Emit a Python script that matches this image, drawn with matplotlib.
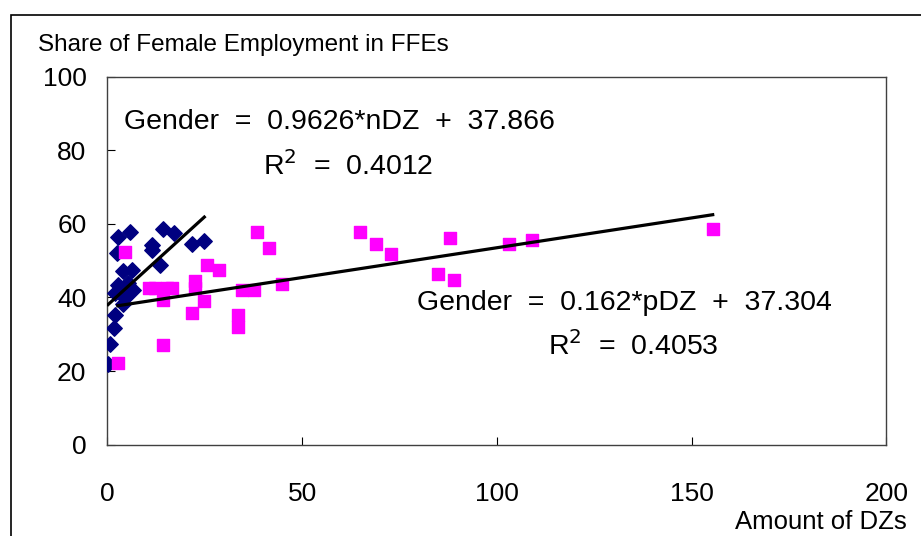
import matplotlib.pyplot as plt
from matplotlib.patches import Rectangle
import numpy as np

# nDZ series (navy diamonds)
n_dz = [0.2, 0.7, 1.7, 2.0, 4.1, 2.0, 4.6, 5.0, 6.7, 2.8, 5.4, 4.1, 6.3,
        2.4, 2.8, 5.8, 11.4, 11.4, 13.6, 14.4, 17.0, 21.7, 24.9]
n_share = [22.0, 27.3, 31.8, 35.2, 38.1, 41.2, 39.9, 41.7, 42.1, 43.5, 43.9,
           47.1, 47.5, 52.0, 56.5, 57.9, 54.3, 52.9, 48.9, 58.7, 57.4, 54.4, 55.3]

# pDZ series (magenta squares)
p_dz = [2.7, 4.6, 10.6, 12.3, 15.3, 16.6, 14.4, 14.4, 22.6, 22.6, 21.7, 24.7,
        25.6, 28.8, 33.5, 33.5, 34.6, 37.6, 38.4, 41.6, 44.9, 64.9, 68.9, 72.9,
        88.0, 84.9, 89.1, 103.0, 109.0, 155.4]
p_share = [22.2, 52.4, 42.5, 42.5, 42.5, 42.5, 39.4, 27.0, 44.4, 42.6, 35.7, 39.0,
           48.7, 47.5, 35.1, 32.0, 42.0, 42.0, 57.7, 53.5, 43.7, 57.7, 54.5, 51.8,
           56.2, 46.4, 44.8, 54.5, 55.5, 58.7]

# trend lines as given in the chart
n_slope, n_icpt = 0.9626, 37.866
p_slope, p_icpt = 0.162, 37.304

plt.rcParams["font.family"] = ["Liberation Sans", "DejaVu Sans"]

fig = plt.figure(figsize=(9.21, 5.36), dpi=100)
fig.patches.append(Rectangle((11 / 921, -0.1), 1.0, 1 - 15 / 536 + 0.1,
                             transform=fig.transFigure, fill=False,
                             edgecolor="black", linewidth=1.2))

ax = fig.add_axes([0.1165, 0.1705, 0.846, 0.6865])
ax.scatter(n_dz, n_share, marker="D", s=62, color="#000080", zorder=3)
ax.scatter(p_dz, p_share, marker="s", s=72, color="#FF00FF", zorder=3)

xn = np.array([min(n_dz), max(n_dz)])
ax.plot(xn, n_slope * xn + n_icpt, color="black", linewidth=2.3, zorder=4)
xp = np.array([min(p_dz), max(p_dz)])
ax.plot(xp, p_slope * xp + p_icpt, color="black", linewidth=2.3, zorder=4)

ax.set_xlim(0, 200)
ax.set_ylim(0, 100)
ax.set_xticks([0, 50, 100, 150, 200])
ax.set_yticks([0, 20, 40, 60, 80, 100])
ax.tick_params(direction="in", length=6, labelsize=19)
ax.tick_params(axis="x", pad=27)
ax.tick_params(axis="y", pad=15)
for s in ax.spines.values():
    s.set_linewidth(1.0)
    s.set_color("#404040")

ax.text(0.022, 0.876, "Gender  =  0.9626*nDZ  +  37.866", transform=ax.transAxes,
        fontsize=20.5, va="center")
ax.text(0.2, 0.757, "R$^2$  =  0.4012", transform=ax.transAxes,
        fontsize=20.5, va="center")
ax.text(0.398, 0.385, "Gender  =  0.162*pDZ  +  37.304", transform=ax.transAxes,
        fontsize=20.5, va="center")
ax.text(0.565, 0.268, "R$^2$  =  0.4053", transform=ax.transAxes,
        fontsize=20.5, va="center")

fig.text(38 / 921, 1 - 45 / 536, "Share of Female Employment in FFEs",
         fontsize=17.5, va="center")
fig.text(907 / 921, 1 - 522 / 536, "Amount of DZs", fontsize=18.5,
         va="center", ha="right")

fig.savefig("out.png", dpi=100)
